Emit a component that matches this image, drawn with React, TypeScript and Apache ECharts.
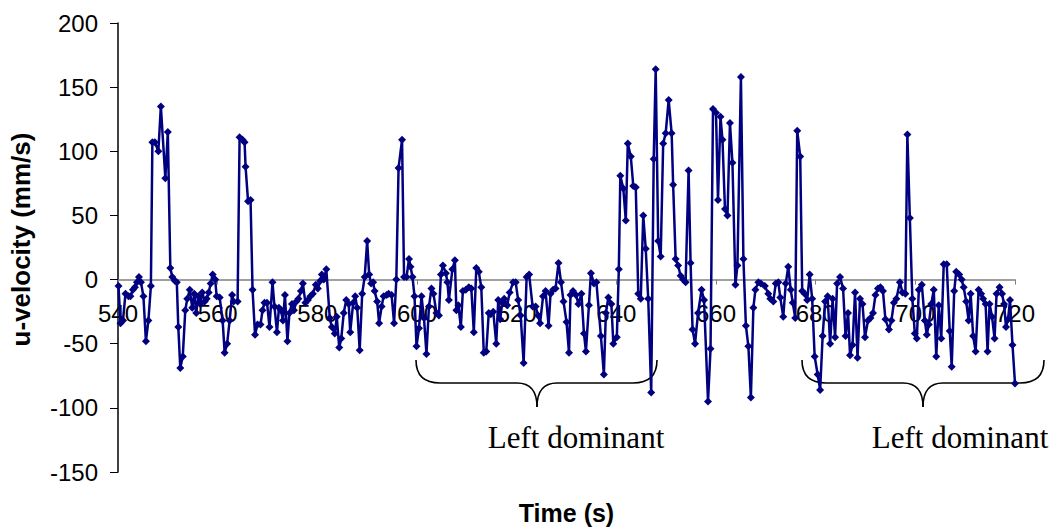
import React, { useEffect, useRef } from "react";
import * as echarts from "echarts";

// Time (s) and u-velocity (mm/s) samples, grouped by 30 s spans
const segA: [number, number][] = [
  [540.1, -5], [540.5, -34], [541.0, -32], [541.5, -11], [542.1, -13], [542.5, -13], [543.0, -8], [543.4, -6],
  [543.8, -2], [544.2, 2], [544.6, -2], [545.1, -13], [545.6, -48], [546.1, -32], [546.6, -5], [546.9, 107],
  [547.4, 107], [548.1, 100], [548.6, 135], [549.5, 79], [550.0, 115], [550.5, 9], [550.9, 2], [551.4, -1],
  [551.8, -2], [552.1, -37], [552.5, -69], [553.0, -60], [553.5, -24], [553.9, -15], [554.4, -8], [554.9, -22],
  [555.3, -11], [555.7, -26], [556.1, -13], [556.5, -19], [556.9, -10], [557.4, -17], [557.8, -15], [558.2, -10],
  [558.6, -3], [559.0, 4], [559.5, 0], [559.8, -13], [560.4, -14], [561.0, -32], [561.4, -57], [561.9, -50],
  [562.4, -32], [562.9, -12], [563.2, -17], [564.0, -17], [564.4, 111], [565.0, 109], [565.4, 107], [565.6, 88],
  [566.1, 61], [566.6, 62], [567.0, -8], [567.5, -43], [568.0, -35], [568.6, -35], [569.0, -24], [569.4, -18],
  [569.9, -18],
];
const segB: [number, number][] = [
  [570.4, -37], [571.0, -2], [571.4, -21], [571.9, -41], [572.3, -22], [572.7, -24], [573.1, -32], [573.5, -12],
  [574.0, -48], [574.4, -26], [574.9, -19], [575.3, -24], [575.8, -17], [576.2, -15], [576.7, -9], [577.1, -3],
  [577.6, -18], [578.1, -16], [578.6, -13], [579.1, -11], [579.7, -4], [580.1, -7], [580.6, -1], [580.9, 4],
  [581.3, 0], [581.8, 8], [582.5, -30], [582.9, -37], [583.5, -42], [583.9, -29], [584.4, -53], [584.8, -46],
  [585.3, -26], [585.8, -16], [586.3, -19], [586.6, -41], [587.2, -18], [587.6, -13], [588.0, -22], [588.5, -55],
  [589.0, -11], [589.5, 2], [590.0, 30], [590.4, 4], [590.8, -3], [591.2, -2], [591.5, -9], [592.0, -17],
  [592.4, -34], [592.9, -21], [593.3, -13], [593.9, -12], [594.3, -11], [594.9, -12], [595.4, -34], [595.85, 0],
  [596.3, 87], [597.0, 109], [597.4, 2], [597.9, 2], [598.4, 16], [598.7, 10], [599.1, 2], [599.5, -13],
  [599.9, -52],
];
const segC: [number, number][] = [
  [600.4, -38], [600.9, -13], [601.4, -30], [601.9, -58], [602.4, -21], [602.9, -7], [603.3, -11], [603.9, -26],
  [604.4, -28], [604.8, 4], [605.2, 11], [605.8, 5], [606.1, -2], [606.4, -16], [607.1, 8], [607.6, 15],
  [607.9, -24], [608.3, -20], [608.8, -37], [609.2, -9], [609.8, -8], [610.4, -6], [610.9, -7], [611.4, -41],
  [611.9, 9], [612.4, 6], [612.9, -6], [613.4, -57], [613.9, -56], [614.4, -26], [614.8, -27], [615.3, -25],
  [615.9, -50], [616.3, -16], [616.7, -31], [617.1, -18], [617.5, -15], [618.1, -20], [618.6, -10], [619.3, -2],
  [619.8, -2], [620.3, -16], [620.8, -28], [621.4, -65], [622.0, 2], [622.5, 4], [623.2, -21], [623.8, -21],
  [624.3, -28], [624.7, -34], [625.3, -13], [625.8, -9], [626.4, -36], [626.8, -11], [627.3, -8], [627.8, -7],
  [628.4, 13], [628.9, -2], [629.4, -17],
];
const segD: [number, number][] = [
  [630.0, -33], [630.5, -57], [630.8, -12], [631.3, -9], [631.9, -12], [632.4, -19], [633.0, -11], [633.5, -42],
  [633.9, -56], [634.5, -20], [634.9, 5], [635.5, -3], [636.0, -2], [636.9, -44], [637.5, -74], [637.9, -26],
  [638.4, -14], [639.0, -19], [639.4, -50], [640.1, -45], [640.5, 8], [640.8, 81], [641.4, 71], [641.9, 46],
  [642.3, 106], [642.9, 96], [643.4, 73], [643.9, 72], [644.4, -11], [644.9, -15], [645.4, 50], [645.9, 24],
  [646.4, -15], [647.0, -88], [647.5, 94], [647.9, 164], [648.4, 30], [648.9, 18], [649.4, 106], [649.9, 114],
  [650.5, 140], [651.1, 114], [651.4, 74], [651.9, 16], [652.4, 11], [652.9, 3], [653.4, 0], [653.9, -2],
  [654.5, 85], [654.9, 13], [655.3, -39], [655.8, -50], [656.4, -26], [657.1, -8], [657.6, -16], [658.4, -95],
  [658.9, -54], [659.4, 133],
];
const segE: [number, number][] = [
  [660.0, 130], [660.4, 62], [660.9, 127], [661.3, 109], [661.8, 55], [662.3, 50], [662.8, 122], [663.3, 91],
  [663.9, -4], [664.3, 11], [665.0, 158], [665.5, 16], [666.0, -36], [666.5, -52], [667.0, -92], [667.5, -22],
  [667.9, -8], [668.5, -2], [669.0, -3], [669.8, -5], [670.5, -11], [670.9, -15], [671.5, -17], [672.0, -3],
  [672.5, -2], [672.9, -14], [673.5, -29], [674.0, -3], [674.5, 10], [675.0, -8], [675.4, -18], [675.9, -30],
  [676.3, 116], [676.9, 96], [677.3, -9], [677.8, -11], [678.3, -16], [678.8, 4], [679.3, -15], [679.8, -60],
  [680.4, -74], [680.9, -86], [681.4, -44], [681.9, -17], [682.4, -13], [682.9, -50], [683.4, -15], [683.9, -45],
  [684.3, -3], [684.9, 2], [685.5, -7], [686.0, -44], [686.5, -26], [686.9, -59], [687.4, -51], [687.9, -10],
  [688.4, -61], [688.9, -15], [689.4, -19], [689.9, -45],
];
const segF: [number, number][] = [
  [690.5, -32], [691.0, -30], [691.5, -26], [692.0, -12], [692.5, -7], [693.0, -6], [693.5, -9], [694.0, -31],
  [694.7, -39], [695.2, -32], [695.7, -18], [696.2, -15], [696.9, -2], [697.4, -10], [698.0, -11], [698.4, 113],
  [698.9, 48], [699.4, -15], [699.9, -42], [700.3, -46], [700.7, -8], [701.3, -4], [701.9, -32], [702.3, -43],
  [702.7, -35], [703.2, -19], [703.7, -8], [704.2, -60], [704.7, -20], [705.2, -46], [705.7, 12], [706.3, 12],
  [706.9, -40], [707.3, -68], [707.8, -9], [708.2, 6], [708.8, 4], [709.3, 0], [709.7, -6], [710.2, -17],
  [710.7, -32], [711.1, -11], [711.6, -44], [712.1, -56], [712.7, -8], [713.2, -11], [713.6, -15], [714.1, -19],
  [714.5, -56], [714.9, -19], [715.4, -29], [715.9, -46], [716.3, -11], [716.9, -6], [717.4, -11], [717.8, -19],
  [718.2, -37], [718.6, -31], [719.0, -16], [719.5, -51], [720.0, -81],
];

const X_MIN = 540;
const X_MAX = 720;
const X_STEP = 20;
const Y_MIN = -150;
const Y_MAX = 200;
const Y_STEP = 50;
const annotationText = "Left dominant";

const SANS = "'Liberation Sans', Arial, Helvetica, sans-serif";
const SERIF = "'Liberation Serif', 'Times New Roman', serif";

const GRID_TOP = 23;
const GRID_BOTTOM = 58;
const CHART_H = 530;

function brace(x0: number, xc: number, x1: number, yTop: number, yMid: number, yTip: number) {
  const st = { stroke: "#000", lineWidth: 1.6, fill: "none" };
  const r = 24;
  const c = 20;
  return [
    { type: "bezierCurve", shape: { x1: x0, y1: yTop, x2: x0 + r, y2: yMid, cpx1: x0, cpy1: yMid }, style: st },
    { type: "line", shape: { x1: x0 + r, y1: yMid, x2: xc - c, y2: yMid }, style: st },
    { type: "bezierCurve", shape: { x1: xc - c, y1: yMid, x2: xc, y2: yTip, cpx1: xc, cpy1: yMid }, style: st },
    { type: "bezierCurve", shape: { x1: xc, y1: yTip, x2: xc + c, y2: yMid, cpx1: xc, cpy1: yMid }, style: st },
    { type: "line", shape: { x1: xc + c, y1: yMid, x2: x1 - r, y2: yMid }, style: st },
    { type: "bezierCurve", shape: { x1: x1 - r, y1: yMid, x2: x1, y2: yTop, cpx1: x1, cpy1: yMid }, style: st },
  ];
}

export default function App() {
  const ref = useRef<HTMLDivElement>(null);
  useEffect(() => {
    if (!ref.current) return;
    const chart = echarts.init(ref.current, null, { renderer: "svg" });
    const data = [...segA, ...segB, ...segC, ...segD, ...segE, ...segF];
    // the time axis sits on the zero line: shift it up from the grid bottom by the height of the negative range
    const gridH = CHART_H - GRID_TOP - GRID_BOTTOM;
    const zeroOffset = (gridH * (0 - Y_MIN)) / (Y_MAX - Y_MIN);
    chart.setOption({
      animation: false,
      backgroundColor: "#fff",
      grid: { left: 118, right: 45, top: GRID_TOP, bottom: GRID_BOTTOM, containLabel: false, outerBoundsMode: "none" },
      xAxis: {
        type: "value",
        min: X_MIN,
        max: X_MAX,
        interval: X_STEP,
        offset: -zeroOffset,
        name: "Time (s)",
        nameLocation: "middle",
        nameGap: 221,
        nameTextStyle: { fontFamily: SANS, fontWeight: "bold", fontSize: 25, color: "#000" },
        axisLine: { onZero: false, lineStyle: { color: "#808080", width: 1.5 } },
        axisTick: { show: true, length: 5, lineStyle: { color: "#808080", width: 1 } },
        axisLabel: { fontFamily: SANS, fontSize: 24, color: "#000", margin: 22 },
        splitLine: { show: false },
      },
      yAxis: {
        type: "value",
        min: Y_MIN,
        max: Y_MAX,
        interval: Y_STEP,
        name: "u-velocity (mm/s)",
        nameLocation: "middle",
        nameGap: 84,
        nameTextStyle: { fontFamily: SANS, fontWeight: "bold", fontSize: 26, color: "#000", padding: [0, 0, 0, 16] },
        axisLine: { show: true, onZero: false, lineStyle: { color: "#000", width: 1.5 } },
        axisTick: { show: true, length: 8, lineStyle: { color: "#000", width: 1 } },
        axisLabel: { fontFamily: SANS, fontSize: 24, color: "#000", margin: 20 },
        splitLine: { show: false },
      },
      series: [
        {
          type: "line",
          data,
          color: "#000080",
          lineStyle: { color: "#000080", width: 2.5 },
          itemStyle: { color: "#000080" },
          symbol: "diamond",
          symbolSize: 8,
          showSymbol: true,
          showAllSymbol: true,
        },
      ],
      graphic: [
        ...brace(416, 537, 657, 360, 383, 407),
        ...brace(802, 923, 1044, 360, 383, 407),
        {
          type: "text",
          x: 576,
          y: 437,
          style: { text: annotationText, font: `31px ${SERIF}`, fill: "#000", align: "center", verticalAlign: "middle" },
        },
        {
          type: "text",
          x: 960,
          y: 437,
          style: { text: annotationText, font: `31px ${SERIF}`, fill: "#000", align: "center", verticalAlign: "middle" },
        },
      ],
    });
    return () => chart.dispose();
  }, []);
  return (
    <div
      ref={ref}
      style={{ position: "fixed", left: 0, top: 0, width: 1060, height: 530, background: "#fff" }}
    />
  );
}
